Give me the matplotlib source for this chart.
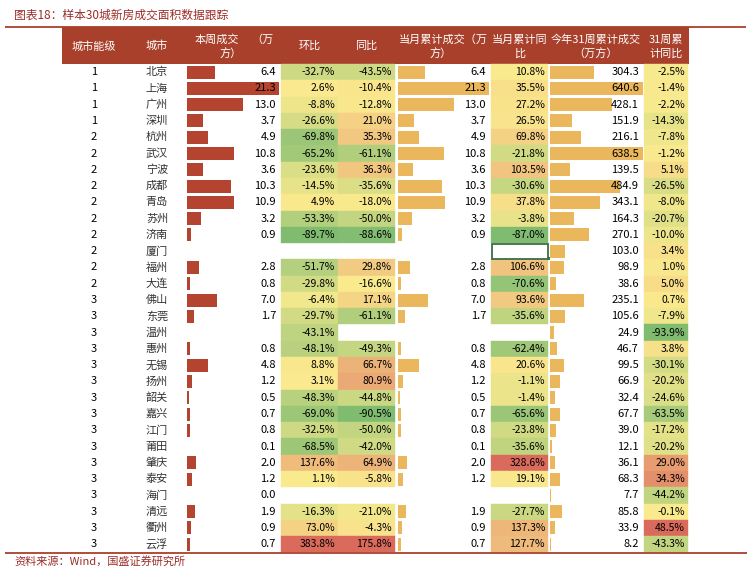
import numpy as np
import matplotlib
import matplotlib.pyplot as plt
from matplotlib.patches import Rectangle

matplotlib.use("Agg")
plt.rcParams["font.family"] = ["Noto Sans CJK SC", "DejaVu Sans"]

nan = np.nan

tiers = [1, 1, 1, 1, 2, 2, 2, 2, 2, 2, 2, 2, 2, 2,
         3, 3, 3, 3, 3, 3, 3, 3, 3, 3, 3, 3, 3, 3, 3, 3]
cities = ["北京", "上海", "广州", "深圳", "杭州", "武汉", "宁波", "成都", "青岛", "苏州",
          "济南", "厦门", "福州", "大连", "佛山", "东莞", "温州", "惠州", "无锡", "扬州",
          "韶关", "嘉兴", "江门", "莆田", "肇庆", "泰安", "海门", "清远", "衢州", "云浮"]
week_area = [6.4, 21.3, 13.0, 3.7, 4.9, 10.8, 3.6, 10.3, 10.9, 3.2,
             0.9, nan, 2.8, 0.8, 7.0, 1.7, nan, 0.8, 4.8, 1.2,
             0.5, 0.7, 0.8, 0.1, 2.0, 1.2, 0.0, 1.9, 0.9, 0.7]
week_mom = [-32.7, 2.6, -8.8, -26.6, -69.8, -65.2, -23.6, -14.5, 4.9, -53.3,
            -89.7, nan, -51.7, -29.8, -6.4, -29.7, -43.1, -48.1, 8.8, 3.1,
            -48.3, -69.0, -32.5, -68.5, 137.6, 1.1, nan, -16.3, 73.0, 383.8]
week_yoy = [-43.5, -10.4, -12.8, 21.0, 35.3, -61.1, 36.3, -35.6, -18.0, -50.0,
            -88.6, nan, 29.8, -16.6, 17.1, -61.1, nan, -49.3, 66.7, 80.9,
            -44.8, -90.5, -50.0, -42.0, 64.9, -5.8, nan, -21.0, -4.3, 175.8]
month_area = [6.4, 21.3, 13.0, 3.7, 4.9, 10.8, 3.6, 10.3, 10.9, 3.2,
              0.9, nan, 2.8, 0.8, 7.0, 1.7, nan, 0.8, 4.8, 1.2,
              0.5, 0.7, 0.8, 0.1, 2.0, 1.2, nan, 1.9, 0.9, 0.7]
month_yoy = [10.8, 35.5, 27.2, 26.5, 69.8, -21.8, 103.5, -30.6, 37.8, -3.8,
             -87.0, nan, 106.6, -70.6, 93.6, -35.6, nan, -62.4, 20.6, -1.1,
             -1.4, -65.6, -23.8, -35.6, 328.6, 19.1, nan, -27.7, 137.3, 127.7]
ytd_area = [304.3, 640.6, 428.1, 151.9, 216.1, 638.5, 139.5, 484.9, 343.1, 164.3,
            270.1, 103.0, 98.9, 38.6, 235.1, 105.6, 24.9, 46.7, 99.5, 66.9,
            32.4, 67.7, 39.0, 12.1, 36.1, 68.3, 7.7, 85.8, 33.9, 8.2]
ytd_yoy = [-2.5, -1.4, -2.2, -14.3, -7.8, -1.2, 5.1, -26.5, -8.0, -20.7,
           -10.0, 3.4, 1.0, 5.0, 0.7, -7.9, -93.9, 3.8, -30.1, -20.2,
           -24.6, -63.5, -17.2, -20.2, 29.0, 34.3, -44.2, -0.1, 48.5, -43.3]

W, H = 752, 577
ROW0, ROW_H = 64.0, 16.28
N = len(cities)
HDR_TOP, HDR_BOT = 27.0, 63.5
RED = "#A8402B"
BAR_RED = "#B4432F"
BAR_TAN = "#EAB75C"
TXT_RED = "#9B2D2A"
G = np.array([128, 188, 112]) / 255
Y = np.array([250, 234, 142]) / 255
R = np.array([218, 106, 92]) / 255


def scale_colors(vals, mid=None):
    # green - yellow - red colour scale, midpoint defaults to the median
    v = np.array(vals, float)
    lo, hi = np.nanmin(v), np.nanmax(v)
    if mid is None:
        mid = np.nanpercentile(v, 50)
    out = []
    for x in v:
        if np.isnan(x):
            out.append(None)
        elif x <= mid:
            out.append(tuple(G + (Y - G) * (x - lo) / (mid - lo)))
        else:
            out.append(tuple(Y + (R - Y) * (x - mid) / (hi - mid)))
    return out


def row_y(i):
    return ROW0 + (i + 0.5) * ROW_H


fig = plt.figure(figsize=(W / 100, H / 100), dpi=100)
bg = fig.add_axes([0, 0, 1, 1], zorder=0)
bg.set_xlim(0, W)
bg.set_ylim(H, 0)
bg.axis("off")

# header band and rules
bg.add_patch(Rectangle((62, HDR_TOP), 689 - 62, HDR_BOT - HDR_TOP, fc=RED, ec="none"))
bg.plot([5, 746], [HDR_TOP, HDR_TOP], color=RED, lw=1.3, solid_capstyle="butt")
bg.plot([5, 747], [553, 553], color=RED, lw=1.3, solid_capstyle="butt")

# conditional-format percentage columns: (x0, x1, values, midpoint)
pct_cols = [(281, 338, week_mom, 0.0), (338, 395, week_yoy, None),
            (491, 548, month_yoy, None), (644, 688, ytd_yoy, 0.0)]
for x0, x1, vals, mid in pct_cols:
    for i, c in enumerate(scale_colors(vals, mid)):
        if c is None:
            continue
        bg.add_patch(Rectangle((x0, ROW0 + i * ROW_H), x1 - x0, ROW_H,
                               fc=c, ec=c, lw=0.3))

# excel cell selection artefact on 厦门
sel = cities.index("厦门")
bg.add_patch(Rectangle((492, ROW0 + sel * ROW_H + 0.5), 56, ROW_H - 1,
                       fc="none", ec="#3C6E47", lw=1.3, zorder=3))
bg.add_patch(Rectangle((546.5, ROW0 + (sel + 1) * ROW_H - 2.5), 3.5, 3.5,
                       fc="#3C6E47", ec="none", zorder=3))

# data bars in their own axes
bar_cols = [(187, 279, week_area, BAR_RED), (398, 489, month_area, BAR_TAN),
            (550, 643, ytd_area, BAR_TAN)]
for x0, x1, vals, col in bar_cols:
    bax = fig.add_axes([x0 / W, 1 - (ROW0 + N * ROW_H) / H,
                        (x1 - x0) / W, N * ROW_H / H], zorder=1)
    v = np.array(vals, float)
    bax.barh(np.arange(N) + 0.5, np.nan_to_num(v), height=0.8, color=col,
             edgecolor="none")
    bax.set_xlim(0, np.nanmax(v))
    bax.set_ylim(N, 0)
    bax.axis("off")

tx = fig.add_axes([0, 0, 1, 1], zorder=2)
tx.set_xlim(0, W)
tx.set_ylim(H, 0)
tx.axis("off")
tx.patch.set_alpha(0)

fs = 8
for i in range(N):
    y = row_y(i)
    tx.text(94, y, str(tiers[i]), ha="center", va="center", fontsize=fs)
    tx.text(157, y, cities[i], ha="center", va="center", fontsize=fs, color="#333333")
    for xr, vals in [(276, week_area), (486, month_area), (639, ytd_area)]:
        if not np.isnan(vals[i]):
            tx.text(xr, y, f"{vals[i]:.1f}", ha="right", va="center", fontsize=fs)
    for x0, x1, vals, _ in pct_cols:
        if not np.isnan(vals[i]):
            tx.text(x1 - 3, y, f"{vals[i]:.1f}%", ha="right", va="center",
                    fontsize=fs - 0.5)

hdr = dict(color="white", fontsize=fs, va="center")
y1, y2, ym = 39.5, 53.5, 46
tx.text(94, ym, "城市能级", ha="center", **hdr)
tx.text(157, ym, "城市", ha="center", **hdr)
tx.text(217, y1, "本周成交", ha="center", **hdr)
tx.text(262, y1, "（万", ha="center", **hdr)
tx.text(231, y2, "方）", ha="center", **hdr)
tx.text(310, ym, "环比", ha="center", **hdr)
tx.text(366, ym, "同比", ha="center", **hdr)
tx.text(443, y1, "当月累计成交（万", ha="center", **hdr)
tx.text(441, y2, "方）", ha="center", **hdr)
tx.text(520, y1, "当月累计同", ha="center", **hdr)
tx.text(520, y2, "比", ha="center", **hdr)
tx.text(596, y1, "今年31周累计成交", ha="center", **hdr)
tx.text(596, y2, "（万方）", ha="center", **hdr)
tx.text(666, y1, "31周累", ha="center", **hdr)
tx.text(666, y2, "计同比", ha="center", **hdr)

tx.text(14, 15, "图表18：样本30城新房成交面积数据跟踪", ha="left", va="center",
        fontsize=8.5, color=TXT_RED)
tx.text(14, 561, "资料来源：Wind，国盛证券研究所", ha="left", va="center",
        fontsize=8, color=TXT_RED)

fig.savefig("out.png", dpi=100)
plt.close(fig)
